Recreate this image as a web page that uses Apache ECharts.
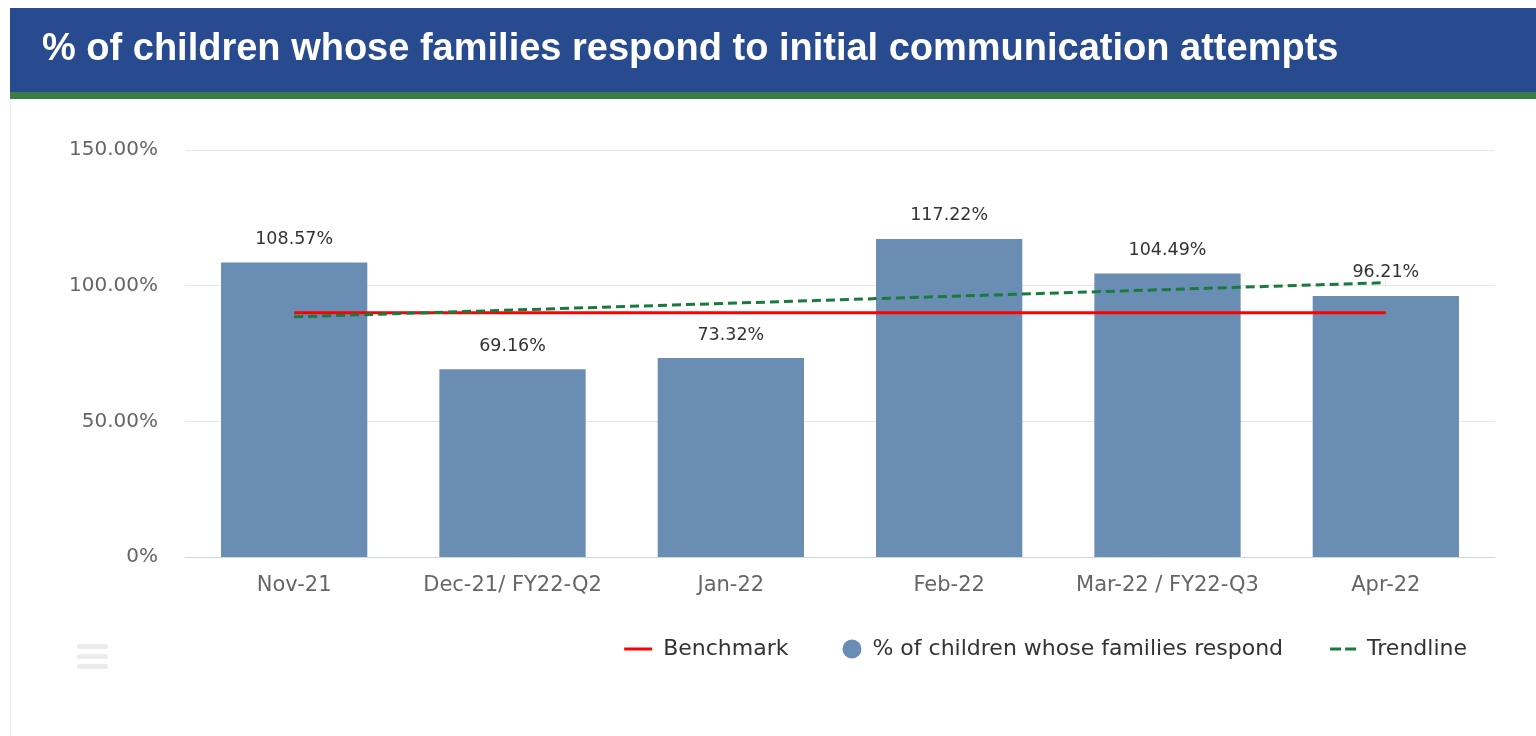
<!DOCTYPE html>
<html><head><meta charset="utf-8">
<script src="https://cdn.jsdelivr.net/npm/echarts@6/dist/echarts.min.js"></script>
<style>html,body{margin:0;padding:0;background:#fff;}#c{width:1536px;height:736px;}</style>
</head><body><div id="c"></div>
<script>
const titleText = '% of children whose families respond to initial communication attempts';
const categories = ['Nov-21', 'Dec-21/ FY22-Q2', 'Jan-22', 'Feb-22', 'Mar-22 / FY22-Q3', 'Apr-22'];
const responseValues = [108.57, 69.16, 73.32, 117.22, 104.49, 96.21];
const benchmarkValues = [90, 90, 90, 90, 90, 90];
const trendValues = [88.5, null, null, null, null, 101.1];
const yTicks = { min: 0, max: 150, interval: 50 };

// legend icons: all share a 34x19 box so they keep scale; drawn part ends at x=28
const boxPad = 'M0,0L0,0M34,19L34,19';
const iconBenchmark = 'path://' + boxPad + 'M0,8L28,8L28,11L0,11Z';
const iconCircle = 'path://' + boxPad + 'M9,9.5A9.5,9.5 0 1 1 28,9.5A9.5,9.5 0 1 1 9,9.5Z';
const iconTrend = 'path://' + boxPad + 'M2,8L13,8L13,11L2,11ZM17,8L28,8L28,11L17,11Z';

const chart = echarts.init(document.getElementById('c'));
const axisFont = 'DejaVu Sans';
chart.setOption({
  animation: false,
  backgroundColor: '#fff',
  graphic: [
    { type: 'rect', left: 10, top: 8, shape: { width: 1526, height: 85 }, style: { fill: '#284a8e' }, z: 0 },
    { type: 'rect', left: 10, top: 92, shape: { width: 1526, height: 7 }, style: { fill: '#3a7d44' }, z: 0 },
    { type: 'rect', left: 10, top: 99, shape: { width: 1, height: 637 }, style: { fill: '#ececec' }, z: 0 },
    { type: 'text', left: 42, top: 31, style: { text: titleText, fill: '#fff', font: 'bold 38px "Liberation Sans", Arial, sans-serif' }, z: 1 },
    { type: 'rect', left: 77, top: 644, shape: { width: 31, height: 5, r: 2.5 }, style: { fill: '#ebebeb' } },
    { type: 'rect', left: 77, top: 654, shape: { width: 31, height: 5, r: 2.5 }, style: { fill: '#ebebeb' } },
    { type: 'rect', left: 77, top: 664, shape: { width: 31, height: 5, r: 2.5 }, style: { fill: '#ebebeb' } }
  ],
  grid: { left: 185, right: 41, top: 150, bottom: 179, containLabel: false },
  legend: {
    right: 64, top: 633,
    itemWidth: 34, itemHeight: 19, itemGap: 45,
    itemStyle: { borderWidth: 0 },
    textStyle: { fontFamily: 'DejaVu Sans', fontSize: 22, color: '#333' },
    data: [
      { name: 'Benchmark', icon: iconBenchmark },
      { name: '% of children whose families respond', icon: iconCircle },
      { name: 'Trendline', icon: iconTrend }
    ]
  },
  xAxis: {
    type: 'category', data: categories,
    axisLine: { lineStyle: { color: '#ccd6eb', width: 1 } },
    axisTick: { show: false },
    axisLabel: { color: '#666', fontFamily: axisFont, fontSize: 21, margin: 18, interval: 0 }
  },
  yAxis: {
    type: 'value', min: yTicks.min, max: yTicks.max, interval: yTicks.interval,
    axisLine: { show: false }, axisTick: { show: false },
    splitLine: { lineStyle: { color: '#e6e6e6', width: 1 } },
    axisLabel: { color: '#666', fontFamily: axisFont, fontSize: 20, margin: 27,
      formatter: v => v === 0 ? '0%' : v.toFixed(2) + '%' }
  },
  series: [
    {
      name: '% of children whose families respond', type: 'bar', data: responseValues,
      barWidth: '67%', itemStyle: { color: '#6a8db3' }, z: 2,
      label: { show: true, position: 'top', distance: 14, color: '#333', fontFamily: axisFont, fontSize: 17.5,
        formatter: p => p.value.toFixed(2) + '%' }
    },
    {
      name: 'Benchmark', type: 'line', data: benchmarkValues, symbol: 'none', z: 3,
      lineStyle: { color: '#ff0000', width: 3 }, itemStyle: { color: '#ff0000', borderWidth: 0 }
    },
    {
      name: 'Trendline', type: 'line', data: trendValues, connectNulls: true, symbol: 'none', z: 4,
      lineStyle: { color: '#1a7a3e', width: 3, type: [9, 5] }, itemStyle: { color: '#1a7a3e', borderWidth: 0 }
    }
  ]
});
</script></body></html>
